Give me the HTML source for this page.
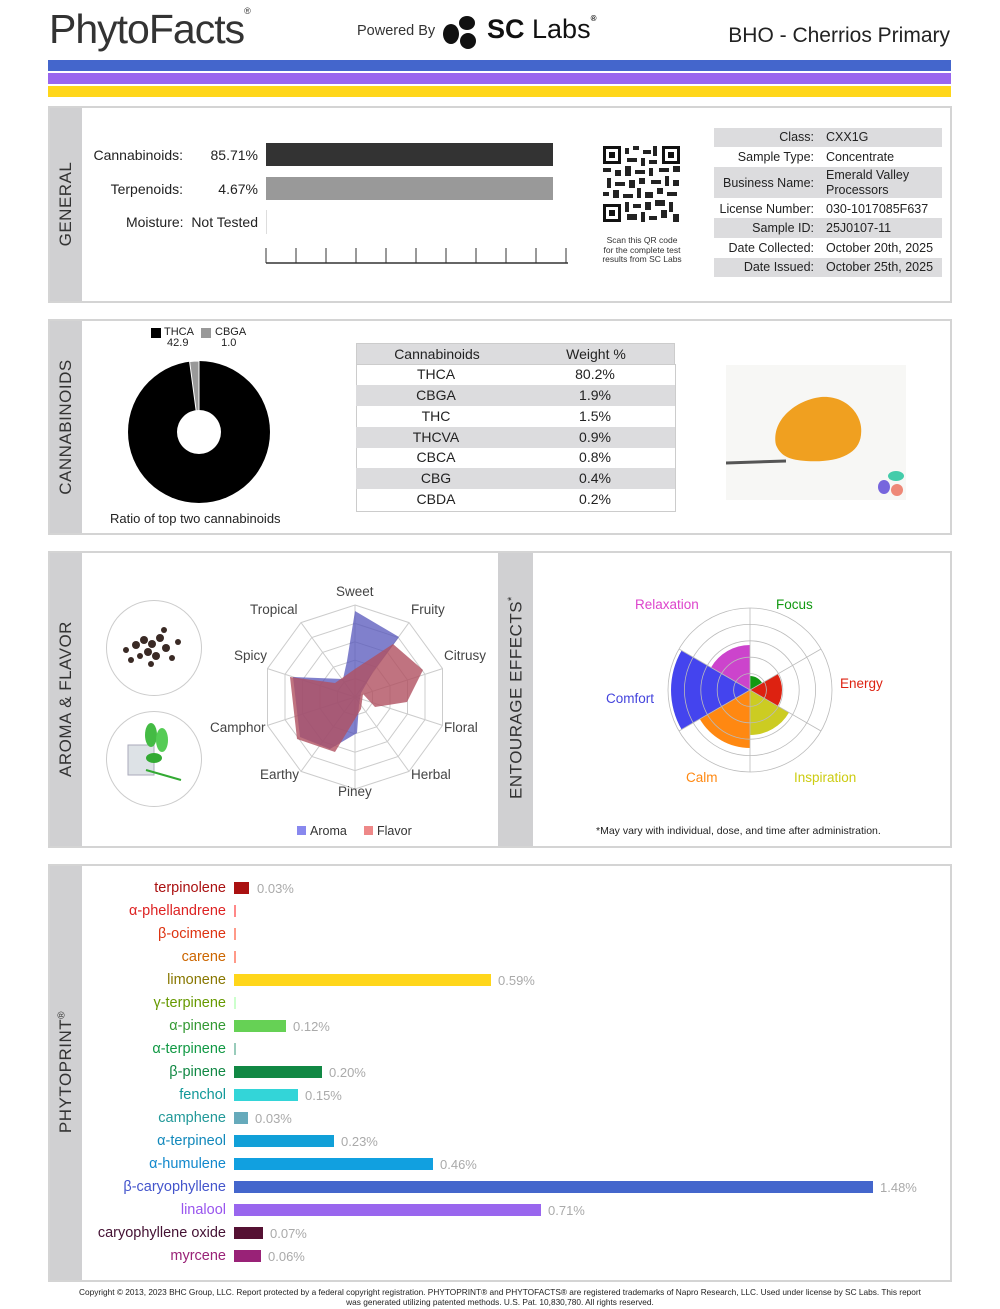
<!DOCTYPE html>
<html><head><meta charset="utf-8"><style>
body{margin:0;width:1000px;height:1309px;background:#fff;font-family:"Liberation Sans",sans-serif;position:relative;overflow:hidden;color:#222}
.a{position:absolute}
.box{position:absolute;border:2px solid #d4d4d4;box-sizing:border-box;background:#fff}
.strip{position:absolute;background:#d0d0d2}
.vt{position:absolute;transform:rotate(-90deg);transform-origin:center;white-space:nowrap;font-size:17px;color:#333;letter-spacing:0.5px;text-align:center}
.r{text-align:right}
.row{position:absolute;left:714px;width:228px;font-size:12.5px}
.row .l{position:absolute;right:128px;text-align:right}
.row .v{position:absolute;left:112px}
.g{background:#dcdcde}
.ct{position:absolute;left:356px;width:319px;height:21px;font-size:14px;line-height:21px}
.ct span{position:absolute;width:160px;text-align:center}
.pl{position:absolute;right:774px;font-size:14.5px;text-align:right;white-space:nowrap}
.pb{position:absolute;left:234px;height:12px}
.pv{position:absolute;font-size:13px;color:#aaa}
</style></head><body>
<!-- header -->
<div class="a" style="left:49px;top:6px;font-size:41px;color:#333;letter-spacing:-1px">PhytoFacts<span style="font-size:9px;vertical-align:top;letter-spacing:0">®</span></div>
<div class="a" style="left:357px;top:23px;font-size:14.5px;color:#333">Powered By</div>
<svg class="a" style="left:440px;top:12px" width="40" height="38"><ellipse cx="11" cy="22" rx="8" ry="10" fill="#111"/><ellipse cx="27" cy="11" rx="8" ry="7" fill="#111"/><ellipse cx="28" cy="29" rx="8" ry="8" fill="#111"/></svg>
<div class="a" style="left:487px;top:14px;font-size:27px;font-weight:bold;color:#111">SC<span style="font-weight:normal"> Labs</span><span style="font-size:8px;vertical-align:top">®</span></div>
<div class="a" style="right:50px;top:24px;font-size:21px;color:#222">BHO - Cherrios Primary</div>
<div class="a" style="left:48px;top:60px;width:903px;height:11px;background:#4466cc"></div>
<div class="a" style="left:48px;top:73px;width:903px;height:11px;background:#9966ee"></div>
<div class="a" style="left:48px;top:86px;width:903px;height:11px;background:#ffd61a"></div>

<!-- GENERAL -->
<div class="box" style="left:48px;top:106px;width:904px;height:197px"></div>
<div class="strip" style="left:50px;top:108px;width:32px;height:193px"></div>
<div class="vt" style="left:16px;top:194px;width:100px;height:20px">GENERAL</div>
<div class="a r" style="right:817px;top:147px;font-size:14px">Cannabinoids:</div>
<div class="a r" style="right:742px;top:147px;font-size:14px">85.71%</div>
<div class="a r" style="right:817px;top:181px;font-size:14px">Terpenoids:</div>
<div class="a r" style="right:742px;top:181px;font-size:14px">4.67%</div>
<div class="a r" style="right:742px;top:214px;font-size:14px">Moisture:&nbsp; Not Tested</div>
<div class="a" style="left:266px;top:143px;width:287px;height:23px;background:#333"></div>
<div class="a" style="left:266px;top:177px;width:287px;height:23px;background:#999"></div>
<div class="a" style="left:266px;top:210px;width:1px;height:24px;background:#ddd"></div>
<svg class="a" style="left:264px;top:246px" width="308" height="20"><path d="M2 17H304" stroke="#333" stroke-width="1.5"/><g stroke="#333"><path d="M2 2V17M32 2V17M62 2V17M92 2V17M122 2V17M152 2V17M182 2V17M212 2V17M242 2V17M272 2V17M302 2V17"/></g></svg>
<svg class="a" style="left:603px;top:146px" width="77" height="76">
<rect width="77" height="76" fill="#fff"/>
<g fill="#111"><rect x="0" y="0" width="18" height="18"/><rect x="59" y="0" width="18" height="18"/><rect x="0" y="58" width="18" height="18"/></g>
<g fill="#fff"><rect x="3" y="3" width="12" height="12"/><rect x="62" y="3" width="12" height="12"/><rect x="3" y="61" width="12" height="12"/></g>
<g fill="#111"><rect x="6" y="6" width="6" height="6"/><rect x="65" y="6" width="6" height="6"/><rect x="6" y="64" width="6" height="6"/></g>
<g fill="#222"><rect x="22" y="2" width="4" height="6"/><rect x="30" y="0" width="6" height="4"/><rect x="40" y="4" width="8" height="4"/><rect x="50" y="0" width="4" height="10"/><rect x="24" y="12" width="10" height="4"/><rect x="38" y="12" width="4" height="8"/><rect x="46" y="14" width="8" height="4"/><rect x="0" y="22" width="8" height="4"/><rect x="12" y="24" width="6" height="6"/><rect x="22" y="20" width="6" height="10"/><rect x="32" y="24" width="10" height="4"/><rect x="46" y="22" width="4" height="8"/><rect x="56" y="22" width="10" height="4"/><rect x="70" y="20" width="7" height="6"/><rect x="4" y="32" width="4" height="10"/><rect x="12" y="36" width="10" height="4"/><rect x="26" y="34" width="6" height="8"/><rect x="36" y="32" width="6" height="6"/><rect x="48" y="34" width="10" height="4"/><rect x="62" y="30" width="4" height="10"/><rect x="70" y="34" width="6" height="6"/><rect x="0" y="46" width="6" height="4"/><rect x="10" y="44" width="6" height="8"/><rect x="20" y="48" width="10" height="4"/><rect x="34" y="42" width="4" height="10"/><rect x="42" y="46" width="8" height="6"/><rect x="54" y="42" width="6" height="6"/><rect x="64" y="46" width="10" height="4"/><rect x="22" y="56" width="4" height="10"/><rect x="30" y="58" width="8" height="4"/><rect x="42" y="56" width="6" height="8"/><rect x="52" y="54" width="10" height="6"/><rect x="66" y="56" width="4" height="10"/><rect x="24" y="68" width="10" height="6"/><rect x="38" y="66" width="4" height="10"/><rect x="46" y="70" width="8" height="4"/><rect x="58" y="64" width="6" height="8"/><rect x="70" y="68" width="6" height="8"/></g></svg>
<div class="a" style="left:582px;top:236px;width:120px;text-align:center;font-size:8.5px;line-height:9.5px;color:#333">Scan this QR code<br>for the complete test<br>results from SC Labs</div>
<div class="row g" style="top:128px;height:19px"><span class="l" style="top:2px">Class:</span><span class="v" style="top:2px">CXX1G</span></div>
<div class="row" style="top:147px;height:19px"><span class="l" style="top:3px">Sample Type:</span><span class="v" style="top:3px">Concentrate</span></div>
<div class="row g" style="top:167px;height:31px"><span class="l" style="top:9px">Business Name:</span><span class="v" style="top:1px;line-height:15px">Emerald Valley<br>Processors</span></div>
<div class="row" style="top:198px;height:20px"><span class="l" style="top:4px">License Number:</span><span class="v" style="top:4px">030-1017085F637</span></div>
<div class="row g" style="top:218px;height:20px"><span class="l" style="top:3px">Sample ID:</span><span class="v" style="top:3px">25J0107-11</span></div>
<div class="row" style="top:238px;height:19px"><span class="l" style="top:3px">Date Collected:</span><span class="v" style="top:3px">October 20th, 2025</span></div>
<div class="row g" style="top:258px;height:19px"><span class="l" style="top:2px">Date Issued:</span><span class="v" style="top:2px">October 25th, 2025</span></div>

<!-- CANNABINOIDS -->
<div class="box" style="left:48px;top:319px;width:904px;height:216px"></div>
<div class="strip" style="left:50px;top:321px;width:32px;height:212px"></div>
<div class="vt" style="left:-14px;top:417px;width:160px;height:20px">CANNABINOIDS</div>
<div class="a" style="left:151px;top:328px;width:10px;height:10px;background:#000"></div>
<div class="a" style="left:164px;top:327px;font-size:11px;line-height:11px">THCA<br>&nbsp;42.9</div>
<div class="a" style="left:201px;top:328px;width:10px;height:10px;background:#999"></div>
<div class="a" style="left:215px;top:327px;font-size:11px;line-height:11px">CBGA<br>&nbsp;&nbsp;1.0</div>
<svg class="a" style="left:127px;top:360px" width="144" height="144">
<circle cx="72" cy="72" r="71" fill="#000"/>
<path d="M72 72 L62.6 1.6 A71 71 0 0 1 72 1 Z" fill="#999" stroke="#fff" stroke-width="1"/>
<path d="M72 72 L72 1" stroke="#fff" stroke-width="1"/>
<circle cx="72" cy="72" r="22" fill="#fff"/></svg>
<div class="a" style="left:110px;top:511px;font-size:13px">Ratio of top two cannabinoids</div>
<div class="ct g" style="top:343px;border:1px solid #ccc;box-sizing:border-box;height:22px"><span style="left:0">Cannabinoids</span><span style="left:159px">Weight %</span></div>
<div style="position:absolute;left:356px;top:364px;width:318px;height:146px;border:1px solid #ccc"></div>
<div class="ct" style="top:364px"><span style="left:0">THCA</span><span style="left:159px">80.2%</span></div>
<div class="ct g" style="top:385px"><span style="left:0">CBGA</span><span style="left:159px">1.9%</span></div>
<div class="ct" style="top:406px"><span style="left:0">THC</span><span style="left:159px">1.5%</span></div>
<div class="ct g" style="top:427px"><span style="left:0">THCVA</span><span style="left:159px">0.9%</span></div>
<div class="ct" style="top:447px"><span style="left:0">CBCA</span><span style="left:159px">0.8%</span></div>
<div class="ct g" style="top:468px"><span style="left:0">CBG</span><span style="left:159px">0.4%</span></div>
<div class="ct" style="top:489px"><span style="left:0">CBDA</span><span style="left:159px">0.2%</span></div>
<svg class="a" style="left:726px;top:365px" width="180" height="135">
<rect width="180" height="135" fill="#f7f7f5"/>
<path d="M0 98 L60 96" stroke="#555" stroke-width="3"/>
<path d="M50 80 C45 55 70 35 95 32 C120 30 138 50 135 70 C133 90 110 98 80 96 C65 95 55 92 50 80Z" fill="#f0a020"/>
<ellipse cx="158" cy="122" rx="6" ry="7" fill="#7766dd"/><ellipse cx="170" cy="111" rx="8" ry="5" fill="#44ccaa"/><ellipse cx="171" cy="125" rx="6" ry="6" fill="#ee8877"/>
</svg>

<!-- AROMA -->
<div class="box" style="left:48px;top:551px;width:904px;height:297px"></div>
<div class="strip" style="left:50px;top:553px;width:32px;height:293px"></div>
<div class="vt" style="left:-34px;top:689px;width:200px;height:20px">AROMA &amp; FLAVOR</div>
<div class="strip" style="left:498px;top:553px;width:35px;height:293px"></div>
<div class="vt" style="left:416px;top:689px;width:200px;height:20px">ENTOURAGE EFFECTS<sup style="font-size:11px">*</sup></div>
<div class="a" style="left:106px;top:600px;width:94px;height:94px;border:1px solid #ccc;border-radius:50%"></div>
<div class="a" style="left:106px;top:711px;width:94px;height:94px;border:1px solid #ccc;border-radius:50%"></div>
<svg class="a" style="left:106px;top:600px" width="96" height="210">
<g fill="#3a2a25"><circle cx="30" cy="45" r="4"/><circle cx="38" cy="40" r="4"/><circle cx="46" cy="44" r="4"/><circle cx="54" cy="38" r="4"/><circle cx="60" cy="48" r="4"/><circle cx="42" cy="52" r="4"/><circle cx="50" cy="56" r="4"/><circle cx="34" cy="56" r="3"/><circle cx="66" cy="58" r="3"/><circle cx="25" cy="60" r="3"/><circle cx="45" cy="64" r="3"/><circle cx="58" cy="30" r="3"/><circle cx="72" cy="42" r="3"/><circle cx="20" cy="50" r="3"/></g>
<rect x="22" y="145" width="26" height="30" fill="#dde2e6" stroke="#aab"/>
<path d="M40 170 L75 180" stroke="#3a3" stroke-width="2"/>
<ellipse cx="45" cy="135" rx="6" ry="12" fill="#4b4"/><ellipse cx="56" cy="140" rx="6" ry="12" fill="#5c5"/><ellipse cx="48" cy="158" rx="8" ry="5" fill="#3a3"/>
</svg>
<svg class="a" style="left:200px;top:580px" width="300" height="230" font-family="Liberation Sans" font-size="13.5" fill="#444">
<g transform="translate(155,117)" fill="none" stroke="#ccc">
<polygon points="0,-92 54,-74.4 87.5,-28.4 87.5,28.4 54,74.4 0,92 -54,74.4 -87.5,28.4 -87.5,-28.4 -54,-74.4"/>
<polygon points="0,-73.6 43.2,-59.5 70,-22.7 70,22.7 43.2,59.5 0,73.6 -43.2,59.5 -70,22.7 -70,-22.7 -43.2,-59.5"/>
<polygon points="0,-55.2 32.4,-44.6 52.5,-17 52.5,17 32.4,44.6 0,55.2 -32.4,44.6 -52.5,17 -52.5,-17 -32.4,-44.6"/>
<polygon points="0,-36.8 21.6,-29.8 35,-11.4 35,11.4 21.6,29.8 0,36.8 -21.6,29.8 -35,11.4 -35,-11.4 -21.6,-29.8"/>
<polygon points="0,-18.4 10.8,-14.9 17.5,-5.7 17.5,5.7 10.8,14.9 0,18.4 -10.8,14.9 -17.5,5.7 -17.5,-5.7 -10.8,-14.9"/>
<path d="M0,0L0,-92M0,0L54,-74.4M0,0L87.5,-28.4M0,0L87.5,28.4M0,0L54,74.4M0,0L0,92M0,0L-54,74.4M0,0L-87.5,28.4M0,0L-87.5,-28.4M0,0L-54,-74.4"/>
<polygon points="0,-86 44,-60 18,-25 6,-4 4,8 2,36 -25,52 -55,40 -62,-20 -12,-18 -8,-36" fill="#5555bb" fill-opacity="0.75" stroke="none"/>
<polygon points="38,-53 68,-27 52,5 20,10 8,-3 6,12 -20,55 -58,42 -65,-20 -20,-14 0,-28" fill="#b05060" fill-opacity="0.8" stroke="none"/>
</g>
<text x="136" y="16">Sweet</text><text x="211" y="34">Fruity</text><text x="244" y="80">Citrusy</text><text x="244" y="152">Floral</text><text x="211" y="199">Herbal</text><text x="138" y="216">Piney</text><text x="60" y="199">Earthy</text><text x="10" y="152">Camphor</text><text x="34" y="80">Spicy</text><text x="50" y="34">Tropical</text>
</svg>
<div class="a" style="left:297px;top:826px;width:9px;height:9px;background:#8888ee"></div>
<div class="a" style="left:310px;top:824px;font-size:12.5px;color:#333">Aroma</div>
<div class="a" style="left:364px;top:826px;width:9px;height:9px;background:#ee8888"></div>
<div class="a" style="left:377px;top:824px;font-size:12.5px;color:#333">Flavor</div>

<svg class="a" style="left:600px;top:590px" width="300" height="200" font-family="Liberation Sans" font-size="13.5">
<g transform="translate(150,100)">
<path d="M0,0 L0,-14 A14,14 0 0 1 12.1,-7 Z" fill="#119911"/>
<path d="M0,0 L27.7,-16 A32,32 0 0 1 27.7,16 Z" fill="#dd2211"/>
<path d="M0,0 L39,22.5 A45,45 0 0 1 0,45 Z" fill="#cccc22"/>
<path d="M0,0 L0,58 A58,58 0 0 1 -50.2,29 Z" fill="#ff8811"/>
<path d="M0,0 L-68.4,39.5 A79,79 0 0 1 -68.4,-39.5 Z" fill="#4444ee"/>
<path d="M0,0 L-39,-22.5 A45,45 0 0 1 0,-45 Z" fill="#cc44cc"/>
<g fill="none" stroke="#bbb" stroke-width="0.8"><circle r="16.4"/><circle r="32.8"/><circle r="49.2"/><circle r="65.6"/><circle r="82"/>
<path d="M0,-82V82M-71,-41L71,41M-71,41L71,-41"/></g>
</g>
<text x="35" y="19" fill="#dd44cc">Relaxation</text><text x="176" y="19" fill="#119911">Focus</text><text x="240" y="98" fill="#dd2211">Energy</text><text x="6" y="113" fill="#4444dd">Comfort</text><text x="86" y="192" fill="#ff8811">Calm</text><text x="194" y="192" fill="#cccc11">Inspiration</text>
</svg>
<div class="a" style="left:596px;top:825px;font-size:10.5px;color:#222">*May vary with individual, dose, and time after administration.</div>

<!-- PHYTOPRINT -->
<div class="box" style="left:48px;top:864px;width:904px;height:418px"></div>
<div class="strip" style="left:50px;top:866px;width:32px;height:414px"></div>
<div class="vt" style="left:-9px;top:1062px;width:150px;height:20px">PHYTOPRINT<sup style="font-size:10px">®</sup></div>

<div class="pl" style="top:880px;color:#aa1111">terpinolene</div><div class="pb" style="top:882px;width:15px;background:#aa1111"></div><div class="pv" style="left:257px;top:881px">0.03%</div>
<div class="pl" style="top:903px;color:#dd2222">α-phellandrene</div><div class="pb" style="top:905px;width:1.5px;background:#f88"></div>
<div class="pl" style="top:926px;color:#dd3311">β-ocimene</div><div class="pb" style="top:928px;width:1.5px;background:#f98"></div>
<div class="pl" style="top:949px;color:#cc6600">carene</div><div class="pb" style="top:951px;width:1.5px;background:#f98"></div>
<div class="pl" style="top:972px;color:#887700">limonene</div><div class="pb" style="top:974px;width:257px;background:#ffd61a"></div><div class="pv" style="left:498px;top:973px">0.59%</div>
<div class="pl" style="top:995px;color:#669900">γ-terpinene</div><div class="pb" style="top:997px;width:1.5px;background:#cfc"></div>
<div class="pl" style="top:1018px;color:#339933">α-pinene</div><div class="pb" style="top:1020px;width:52px;background:#66d155"></div><div class="pv" style="left:293px;top:1019px">0.12%</div>
<div class="pl" style="top:1041px;color:#119944">α-terpinene</div><div class="pb" style="top:1043px;width:1.5px;background:#9cb"></div>
<div class="pl" style="top:1064px;color:#118844">β-pinene</div><div class="pb" style="top:1066px;width:88px;background:#118844"></div><div class="pv" style="left:329px;top:1065px">0.20%</div>
<div class="pl" style="top:1087px;color:#119999">fenchol</div><div class="pb" style="top:1089px;width:64px;background:#33d5d8"></div><div class="pv" style="left:305px;top:1088px">0.15%</div>
<div class="pl" style="top:1110px;color:#229999">camphene</div><div class="pb" style="top:1112px;width:14px;background:#66aabb"></div><div class="pv" style="left:255px;top:1111px">0.03%</div>
<div class="pl" style="top:1133px;color:#1188bb">α-terpineol</div><div class="pb" style="top:1135px;width:100px;background:#11a0d8"></div><div class="pv" style="left:341px;top:1134px">0.23%</div>
<div class="pl" style="top:1156px;color:#1188cc">α-humulene</div><div class="pb" style="top:1158px;width:199px;background:#11a0e0"></div><div class="pv" style="left:440px;top:1157px">0.46%</div>
<div class="pl" style="top:1179px;color:#4455cc">β-caryophyllene</div><div class="pb" style="top:1181px;width:639px;background:#4466cc"></div><div class="pv" style="left:880px;top:1180px">1.48%</div>
<div class="pl" style="top:1202px;color:#9955ee">linalool</div><div class="pb" style="top:1204px;width:307px;background:#9966ee"></div><div class="pv" style="left:548px;top:1203px">0.71%</div>
<div class="pl" style="top:1225px;color:#441133">caryophyllene oxide</div><div class="pb" style="top:1227px;width:29px;background:#551133"></div><div class="pv" style="left:270px;top:1226px">0.07%</div>
<div class="pl" style="top:1248px;color:#992277">myrcene</div><div class="pb" style="top:1250px;width:27px;background:#992277"></div><div class="pv" style="left:268px;top:1249px">0.06%</div>

<div class="a" style="left:40px;top:1288px;width:920px;text-align:center;font-size:8.3px;line-height:9.5px;color:#222">Copyright © 2013, 2023 BHC Group, LLC. Report protected by a federal copyright registration. PHYTOPRINT® and PHYTOFACTS® are registered trademarks of Napro Research, LLC. Used under license by SC Labs. This report<br>was generated utilizing patented methods. U.S. Pat. 10,830,780. All rights reserved.</div>
</body></html>
